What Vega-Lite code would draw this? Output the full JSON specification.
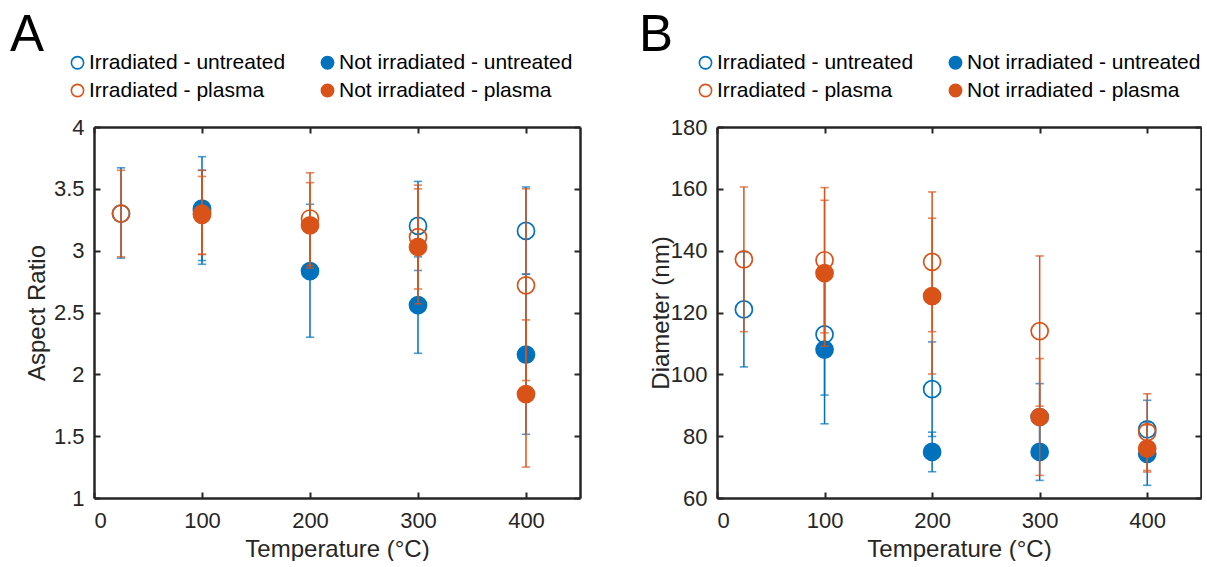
{
  "$schema": "https://vega.github.io/schema/vega-lite/v6.json",
  "padding": {"left": 10, "top": 10, "right": 0, "bottom": 0},
  "background": "white",
  "datasets": {
    "aspect": [
      {"s": "Irradiated - untreated", "t": 25, "v": 3.30, "lo": 2.94, "hi": 3.67},
      {"s": "Irradiated - untreated", "t": 100, "v": 3.32, "lo": 2.89, "hi": 3.65},
      {"s": "Irradiated - untreated", "t": 300, "v": 3.20, "lo": 2.84, "hi": 3.56},
      {"s": "Irradiated - untreated", "t": 400, "v": 3.16, "lo": 2.81, "hi": 3.515},
      {"s": "Not irradiated - untreated", "t": 100, "v": 3.34, "lo": 2.92, "hi": 3.76},
      {"s": "Not irradiated - untreated", "t": 200, "v": 2.835, "lo": 2.30, "hi": 3.375},
      {"s": "Not irradiated - untreated", "t": 300, "v": 2.56, "lo": 2.17, "hi": 2.95},
      {"s": "Not irradiated - untreated", "t": 400, "v": 2.16, "lo": 1.515, "hi": 2.81},
      {"s": "Irradiated - plasma", "t": 25, "v": 3.30, "lo": 2.95, "hi": 3.65},
      {"s": "Irradiated - plasma", "t": 100, "v": 3.30, "lo": 2.97, "hi": 3.60},
      {"s": "Irradiated - plasma", "t": 200, "v": 3.26, "lo": 2.88, "hi": 3.63},
      {"s": "Irradiated - plasma", "t": 300, "v": 3.11, "lo": 2.69, "hi": 3.53},
      {"s": "Irradiated - plasma", "t": 400, "v": 2.72, "lo": 1.95, "hi": 3.50},
      {"s": "Not irradiated - plasma", "t": 100, "v": 3.29, "lo": 2.97, "hi": 3.65},
      {"s": "Not irradiated - plasma", "t": 200, "v": 3.205, "lo": 2.86, "hi": 3.55},
      {"s": "Not irradiated - plasma", "t": 300, "v": 3.03, "lo": 2.57, "hi": 3.50},
      {"s": "Not irradiated - plasma", "t": 400, "v": 1.84, "lo": 1.25, "hi": 2.44}
    ],
    "diam": [
      {"s": "Irradiated - untreated", "t": 25, "v": 121.0, "lo": 102.4, "hi": 139.6},
      {"s": "Irradiated - untreated", "t": 100, "v": 112.9, "lo": 93.3, "hi": 132.5},
      {"s": "Irradiated - untreated", "t": 200, "v": 95.2, "lo": 79.9, "hi": 110.5},
      {"s": "Irradiated - untreated", "t": 300, "v": 86.2, "lo": 75.4, "hi": 97.0},
      {"s": "Irradiated - untreated", "t": 400, "v": 82.2, "lo": 72.8, "hi": 91.6},
      {"s": "Not irradiated - untreated", "t": 100, "v": 108.0, "lo": 84.0, "hi": 132.0},
      {"s": "Not irradiated - untreated", "t": 200, "v": 74.9, "lo": 68.5, "hi": 81.3},
      {"s": "Not irradiated - untreated", "t": 300, "v": 74.9, "lo": 65.7, "hi": 84.1},
      {"s": "Not irradiated - untreated", "t": 400, "v": 74.3, "lo": 64.1, "hi": 84.5},
      {"s": "Irradiated - plasma", "t": 25, "v": 137.2, "lo": 113.8, "hi": 160.6},
      {"s": "Irradiated - plasma", "t": 100, "v": 136.9, "lo": 113.4, "hi": 160.4},
      {"s": "Irradiated - plasma", "t": 200, "v": 136.4, "lo": 113.8, "hi": 159.0},
      {"s": "Irradiated - plasma", "t": 300, "v": 114.0, "lo": 89.7, "hi": 138.3},
      {"s": "Irradiated - plasma", "t": 400, "v": 81.3, "lo": 68.9, "hi": 93.7},
      {"s": "Not irradiated - plasma", "t": 100, "v": 132.7, "lo": 109.1, "hi": 156.3},
      {"s": "Not irradiated - plasma", "t": 200, "v": 125.3, "lo": 100.1, "hi": 150.5},
      {"s": "Not irradiated - plasma", "t": 300, "v": 86.2, "lo": 67.3, "hi": 105.1},
      {"s": "Not irradiated - plasma", "t": 400, "v": 76.0, "lo": 68.4, "hi": 83.6}
    ]
  },
  "config": {
    "font": "Liberation Sans",
    "view": {"stroke": null},
    "axis": {
      "grid": false,
      "domainColor": "#262626",
      "domainWidth": 2.5,
      "tickColor": "#262626",
      "tickWidth": 2,
      "tickSize": -6,
      "labelColor": "#262626",
      "labelFont": "Liberation Sans",
      "labelFontSize": 22,
      "titleFont": "Liberation Sans",
      "titleFontSize": 24,
      "titleFontWeight": "normal",
      "titleColor": "#262626"
    },
    "legend": {
      "orient": "none", "legendX": -27, "legendY": -75, "columns": 2,
      "symbolType": "circle", "symbolSize": 150, "symbolStrokeWidth": 1.6, "symbolOpacity": 1,
      "labelFont": "Liberation Sans", "labelFontSize": 21, "labelColor": "#000000", "labelOffset": 1, "labelLimit": 0,
      "columnPadding": 31, "rowPadding": 6, "padding": 0
    },
    "title": {"font": "Liberation Sans", "fontSize": 51, "fontWeight": "normal", "color": "#000000"}
  },
  "spacing": 58,
  "resolve": {"scale": {"stroke": "independent", "fill": "independent"}, "legend": {"stroke": "independent", "fill": "independent"}},
  "hconcat": [
    {
      "width": 486,
      "height": 371,
      "title": {"text": "A", "frame": "group", "anchor": "start", "dx": -84, "offset": -50, "baseline": "alphabetic"},
      "data": {"name": "aspect"},
      "resolve": {"axis": {"x": "independent", "y": "independent"}},
      "encoding": {
        "x": {"field": "t", "type": "quantitative", "scale": {"domain": [0, 450], "nice": false, "zero": false}, "axis": null}
      },
      "layer": [
        {"mark": {"type": "point", "opacity": 0}, "encoding": {
          "x": {"field": "t", "type": "quantitative", "scale": {"domain": [0, 450], "nice": false, "zero": false}, "axis": {"orient": "bottom", "values": [0, 100, 200, 300, 400], "title": "Temperature (°C)", "labelPadding": 18, "titlePadding": 6}},
          "y": {"field": "v", "type": "quantitative", "scale": {"domain": [1, 4], "nice": false, "zero": false}, "axis": {"orient": "left", "values": [1, 1.5, 2, 2.5, 3, 3.5, 4], "format": "~g", "title": "Aspect Ratio", "labelPadding": 16, "titlePadding": 4}}
        }},
        {"mark": {"type": "point", "opacity": 0}, "encoding": {
          "x": {"field": "t", "type": "quantitative", "scale": {"domain": [0, 450], "nice": false, "zero": false}, "axis": {"orient": "top", "values": [0, 100, 200, 300, 400], "labels": false, "title": null}},
          "y": {"field": "v", "type": "quantitative", "scale": {"domain": [1, 4], "nice": false, "zero": false}, "axis": {"orient": "right", "values": [1, 1.5, 2, 2.5, 3, 3.5, 4], "labels": false, "title": null}}
        }},
        {"transform": [{"filter": "datum.s == 'Irradiated - untreated'"}],
         "encoding": {"stroke": {"field": "s", "type": "nominal", "scale": {"domain": ["Irradiated - untreated", "Irradiated - plasma", "Not irradiated - untreated", "Not irradiated - plasma"], "range": ["#0072BD", "#D95319", "#0072BD", "#D95319"]}, "legend": {"title": null}}},
         "layer": [
          {"mark": {"type": "rule", "strokeWidth": 1.5}, "encoding": {"y": {"field": "lo", "type": "quantitative", "scale": {"domain": [1, 4], "nice": false, "zero": false}, "axis": null}, "y2": {"field": "hi"}}},
          {"transform": [{"fold": ["lo", "hi"], "as": ["k", "e"]}], "mark": {"type": "tick", "orient": "horizontal", "size": 7, "thickness": 0.3, "filled": false, "strokeWidth": 1.3}, "encoding": {"y": {"field": "e", "type": "quantitative", "scale": {"domain": [1, 4], "nice": false, "zero": false}, "axis": null}}},
          {"mark": {"type": "point", "shape": "circle", "filled": true, "size": 290, "strokeWidth": 1.7, "opacity": 1}, "encoding": {"y": {"field": "v", "type": "quantitative", "scale": {"domain": [1, 4], "nice": false, "zero": false}, "axis": null}, "fill": {"field": "s", "type": "nominal", "scale": {"domain": ["Irradiated - untreated", "Irradiated - plasma", "Not irradiated - untreated", "Not irradiated - plasma"], "range": ["transparent", "transparent", "#0072BD", "#D95319"]}, "legend": {"title": null}}}}
        ]},
        {"transform": [{"filter": "datum.s == 'Not irradiated - untreated'"}],
         "encoding": {"stroke": {"field": "s", "type": "nominal", "scale": {"domain": ["Irradiated - untreated", "Irradiated - plasma", "Not irradiated - untreated", "Not irradiated - plasma"], "range": ["#0072BD", "#D95319", "#0072BD", "#D95319"]}, "legend": {"title": null}}},
         "layer": [
          {"mark": {"type": "rule", "strokeWidth": 1.5}, "encoding": {"y": {"field": "lo", "type": "quantitative", "scale": {"domain": [1, 4], "nice": false, "zero": false}, "axis": null}, "y2": {"field": "hi"}}},
          {"transform": [{"fold": ["lo", "hi"], "as": ["k", "e"]}], "mark": {"type": "tick", "orient": "horizontal", "size": 7, "thickness": 0.3, "filled": false, "strokeWidth": 1.3}, "encoding": {"y": {"field": "e", "type": "quantitative", "scale": {"domain": [1, 4], "nice": false, "zero": false}, "axis": null}}},
          {"mark": {"type": "point", "shape": "circle", "filled": true, "size": 290, "strokeWidth": 1.7, "opacity": 1}, "encoding": {"y": {"field": "v", "type": "quantitative", "scale": {"domain": [1, 4], "nice": false, "zero": false}, "axis": null}, "fill": {"field": "s", "type": "nominal", "scale": {"domain": ["Irradiated - untreated", "Irradiated - plasma", "Not irradiated - untreated", "Not irradiated - plasma"], "range": ["transparent", "transparent", "#0072BD", "#D95319"]}, "legend": {"title": null}}}}
        ]},
        {"transform": [{"filter": "datum.s == 'Irradiated - plasma'"}],
         "encoding": {"stroke": {"field": "s", "type": "nominal", "scale": {"domain": ["Irradiated - untreated", "Irradiated - plasma", "Not irradiated - untreated", "Not irradiated - plasma"], "range": ["#0072BD", "#D95319", "#0072BD", "#D95319"]}, "legend": {"title": null}}},
         "layer": [
          {"mark": {"type": "rule", "strokeWidth": 1.5}, "encoding": {"y": {"field": "lo", "type": "quantitative", "scale": {"domain": [1, 4], "nice": false, "zero": false}, "axis": null}, "y2": {"field": "hi"}}},
          {"transform": [{"fold": ["lo", "hi"], "as": ["k", "e"]}], "mark": {"type": "tick", "orient": "horizontal", "size": 7, "thickness": 0.3, "filled": false, "strokeWidth": 1.3}, "encoding": {"y": {"field": "e", "type": "quantitative", "scale": {"domain": [1, 4], "nice": false, "zero": false}, "axis": null}}},
          {"mark": {"type": "point", "shape": "circle", "filled": true, "size": 290, "strokeWidth": 1.7, "opacity": 1}, "encoding": {"y": {"field": "v", "type": "quantitative", "scale": {"domain": [1, 4], "nice": false, "zero": false}, "axis": null}, "fill": {"field": "s", "type": "nominal", "scale": {"domain": ["Irradiated - untreated", "Irradiated - plasma", "Not irradiated - untreated", "Not irradiated - plasma"], "range": ["transparent", "transparent", "#0072BD", "#D95319"]}, "legend": {"title": null}}}}
        ]},
        {"transform": [{"filter": "datum.s == 'Not irradiated - plasma'"}],
         "encoding": {"stroke": {"field": "s", "type": "nominal", "scale": {"domain": ["Irradiated - untreated", "Irradiated - plasma", "Not irradiated - untreated", "Not irradiated - plasma"], "range": ["#0072BD", "#D95319", "#0072BD", "#D95319"]}, "legend": {"title": null}}},
         "layer": [
          {"mark": {"type": "rule", "strokeWidth": 1.5}, "encoding": {"y": {"field": "lo", "type": "quantitative", "scale": {"domain": [1, 4], "nice": false, "zero": false}, "axis": null}, "y2": {"field": "hi"}}},
          {"transform": [{"fold": ["lo", "hi"], "as": ["k", "e"]}], "mark": {"type": "tick", "orient": "horizontal", "size": 7, "thickness": 0.3, "filled": false, "strokeWidth": 1.3}, "encoding": {"y": {"field": "e", "type": "quantitative", "scale": {"domain": [1, 4], "nice": false, "zero": false}, "axis": null}}},
          {"mark": {"type": "point", "shape": "circle", "filled": true, "size": 290, "strokeWidth": 1.7, "opacity": 1}, "encoding": {"y": {"field": "v", "type": "quantitative", "scale": {"domain": [1, 4], "nice": false, "zero": false}, "axis": null}, "fill": {"field": "s", "type": "nominal", "scale": {"domain": ["Irradiated - untreated", "Irradiated - plasma", "Not irradiated - untreated", "Not irradiated - plasma"], "range": ["transparent", "transparent", "#0072BD", "#D95319"]}, "legend": {"title": null}}}}
        ]}
      ]
    },
    {
      "width": 484,
      "height": 371,
      "title": {"text": "B", "frame": "group", "anchor": "start", "dx": -78, "offset": -50, "baseline": "alphabetic"},
      "data": {"name": "diam"},
      "resolve": {"axis": {"x": "independent", "y": "independent"}},
      "encoding": {
        "x": {"field": "t", "type": "quantitative", "scale": {"domain": [0, 450], "nice": false, "zero": false}, "axis": null}
      },
      "layer": [
        {"mark": {"type": "point", "opacity": 0}, "encoding": {
          "x": {"field": "t", "type": "quantitative", "scale": {"domain": [0, 450], "nice": false, "zero": false}, "axis": {"orient": "bottom", "values": [0, 100, 200, 300, 400], "title": "Temperature (°C)", "labelPadding": 18, "titlePadding": 6}},
          "y": {"field": "v", "type": "quantitative", "scale": {"domain": [60, 180], "nice": false, "zero": false}, "axis": {"orient": "left", "values": [60, 80, 100, 120, 140, 160, 180], "title": "Diameter (nm)", "labelPadding": 16, "titlePadding": -3}}
        }},
        {"mark": {"type": "point", "opacity": 0}, "encoding": {
          "x": {"field": "t", "type": "quantitative", "scale": {"domain": [0, 450], "nice": false, "zero": false}, "axis": {"orient": "top", "values": [0, 100, 200, 300, 400], "labels": false, "title": null}},
          "y": {"field": "v", "type": "quantitative", "scale": {"domain": [60, 180], "nice": false, "zero": false}, "axis": {"orient": "right", "values": [60, 80, 100, 120, 140, 160, 180], "labels": false, "title": null}}
        }},
        {"transform": [{"filter": "datum.s == 'Irradiated - untreated'"}],
         "encoding": {"stroke": {"field": "s", "type": "nominal", "scale": {"domain": ["Irradiated - untreated", "Irradiated - plasma", "Not irradiated - untreated", "Not irradiated - plasma"], "range": ["#0072BD", "#D95319", "#0072BD", "#D95319"]}, "legend": {"title": null, "legendX": -22}}},
         "layer": [
          {"mark": {"type": "rule", "strokeWidth": 1.5}, "encoding": {"y": {"field": "lo", "type": "quantitative", "scale": {"domain": [60, 180], "nice": false, "zero": false}, "axis": null}, "y2": {"field": "hi"}}},
          {"transform": [{"fold": ["lo", "hi"], "as": ["k", "e"]}], "mark": {"type": "tick", "orient": "horizontal", "size": 7, "thickness": 0.3, "filled": false, "strokeWidth": 1.3}, "encoding": {"y": {"field": "e", "type": "quantitative", "scale": {"domain": [60, 180], "nice": false, "zero": false}, "axis": null}}},
          {"mark": {"type": "point", "shape": "circle", "filled": true, "size": 290, "strokeWidth": 1.7, "opacity": 1}, "encoding": {"y": {"field": "v", "type": "quantitative", "scale": {"domain": [60, 180], "nice": false, "zero": false}, "axis": null}, "fill": {"field": "s", "type": "nominal", "scale": {"domain": ["Irradiated - untreated", "Irradiated - plasma", "Not irradiated - untreated", "Not irradiated - plasma"], "range": ["transparent", "transparent", "#0072BD", "#D95319"]}, "legend": {"title": null, "legendX": -22}}}}
        ]},
        {"transform": [{"filter": "datum.s == 'Not irradiated - untreated'"}],
         "encoding": {"stroke": {"field": "s", "type": "nominal", "scale": {"domain": ["Irradiated - untreated", "Irradiated - plasma", "Not irradiated - untreated", "Not irradiated - plasma"], "range": ["#0072BD", "#D95319", "#0072BD", "#D95319"]}, "legend": {"title": null, "legendX": -22}}},
         "layer": [
          {"mark": {"type": "rule", "strokeWidth": 1.5}, "encoding": {"y": {"field": "lo", "type": "quantitative", "scale": {"domain": [60, 180], "nice": false, "zero": false}, "axis": null}, "y2": {"field": "hi"}}},
          {"transform": [{"fold": ["lo", "hi"], "as": ["k", "e"]}], "mark": {"type": "tick", "orient": "horizontal", "size": 7, "thickness": 0.3, "filled": false, "strokeWidth": 1.3}, "encoding": {"y": {"field": "e", "type": "quantitative", "scale": {"domain": [60, 180], "nice": false, "zero": false}, "axis": null}}},
          {"mark": {"type": "point", "shape": "circle", "filled": true, "size": 290, "strokeWidth": 1.7, "opacity": 1}, "encoding": {"y": {"field": "v", "type": "quantitative", "scale": {"domain": [60, 180], "nice": false, "zero": false}, "axis": null}, "fill": {"field": "s", "type": "nominal", "scale": {"domain": ["Irradiated - untreated", "Irradiated - plasma", "Not irradiated - untreated", "Not irradiated - plasma"], "range": ["transparent", "transparent", "#0072BD", "#D95319"]}, "legend": {"title": null, "legendX": -22}}}}
        ]},
        {"transform": [{"filter": "datum.s == 'Irradiated - plasma'"}],
         "encoding": {"stroke": {"field": "s", "type": "nominal", "scale": {"domain": ["Irradiated - untreated", "Irradiated - plasma", "Not irradiated - untreated", "Not irradiated - plasma"], "range": ["#0072BD", "#D95319", "#0072BD", "#D95319"]}, "legend": {"title": null, "legendX": -22}}},
         "layer": [
          {"mark": {"type": "rule", "strokeWidth": 1.5}, "encoding": {"y": {"field": "lo", "type": "quantitative", "scale": {"domain": [60, 180], "nice": false, "zero": false}, "axis": null}, "y2": {"field": "hi"}}},
          {"transform": [{"fold": ["lo", "hi"], "as": ["k", "e"]}], "mark": {"type": "tick", "orient": "horizontal", "size": 7, "thickness": 0.3, "filled": false, "strokeWidth": 1.3}, "encoding": {"y": {"field": "e", "type": "quantitative", "scale": {"domain": [60, 180], "nice": false, "zero": false}, "axis": null}}},
          {"mark": {"type": "point", "shape": "circle", "filled": true, "size": 290, "strokeWidth": 1.7, "opacity": 1}, "encoding": {"y": {"field": "v", "type": "quantitative", "scale": {"domain": [60, 180], "nice": false, "zero": false}, "axis": null}, "fill": {"field": "s", "type": "nominal", "scale": {"domain": ["Irradiated - untreated", "Irradiated - plasma", "Not irradiated - untreated", "Not irradiated - plasma"], "range": ["transparent", "transparent", "#0072BD", "#D95319"]}, "legend": {"title": null, "legendX": -22}}}}
        ]},
        {"transform": [{"filter": "datum.s == 'Not irradiated - plasma'"}],
         "encoding": {"stroke": {"field": "s", "type": "nominal", "scale": {"domain": ["Irradiated - untreated", "Irradiated - plasma", "Not irradiated - untreated", "Not irradiated - plasma"], "range": ["#0072BD", "#D95319", "#0072BD", "#D95319"]}, "legend": {"title": null, "legendX": -22}}},
         "layer": [
          {"mark": {"type": "rule", "strokeWidth": 1.5}, "encoding": {"y": {"field": "lo", "type": "quantitative", "scale": {"domain": [60, 180], "nice": false, "zero": false}, "axis": null}, "y2": {"field": "hi"}}},
          {"transform": [{"fold": ["lo", "hi"], "as": ["k", "e"]}], "mark": {"type": "tick", "orient": "horizontal", "size": 7, "thickness": 0.3, "filled": false, "strokeWidth": 1.3}, "encoding": {"y": {"field": "e", "type": "quantitative", "scale": {"domain": [60, 180], "nice": false, "zero": false}, "axis": null}}},
          {"mark": {"type": "point", "shape": "circle", "filled": true, "size": 290, "strokeWidth": 1.7, "opacity": 1}, "encoding": {"y": {"field": "v", "type": "quantitative", "scale": {"domain": [60, 180], "nice": false, "zero": false}, "axis": null}, "fill": {"field": "s", "type": "nominal", "scale": {"domain": ["Irradiated - untreated", "Irradiated - plasma", "Not irradiated - untreated", "Not irradiated - plasma"], "range": ["transparent", "transparent", "#0072BD", "#D95319"]}, "legend": {"title": null, "legendX": -22}}}}
        ]}
      ]
    }
  ]
}
